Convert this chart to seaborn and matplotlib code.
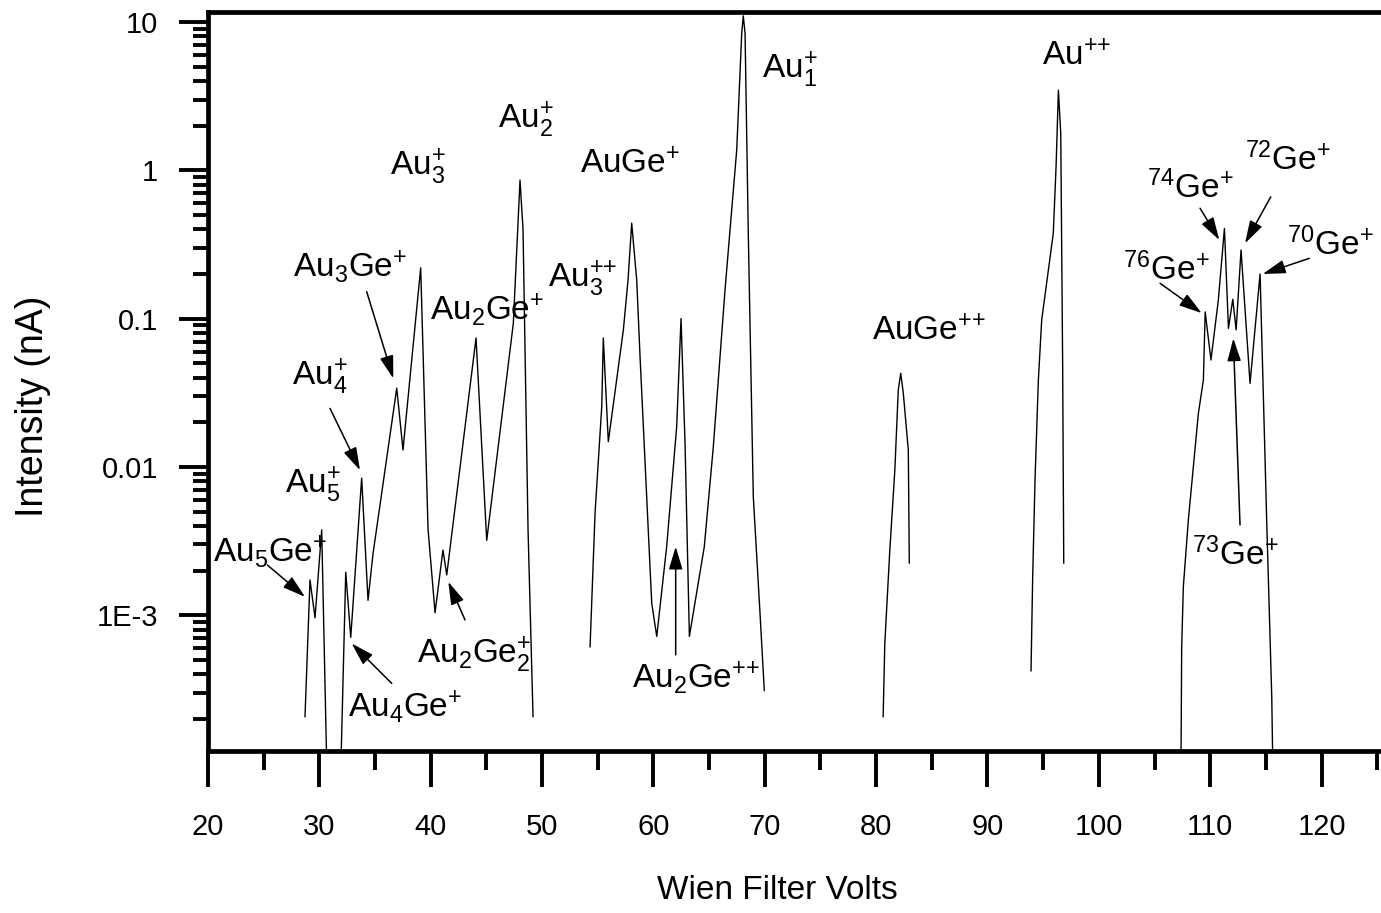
import numpy as np
import pandas as pd
import matplotlib
matplotlib.use("Agg")
import matplotlib.pyplot as plt
import seaborn as sns

# ---- scan segments: Wien filter voltage (V) and beam current (nA) ----
seg_a_volts = [28.71, 29.16, 29.61, 30.21, 30.66]
seg_a_na = [2.06e-4, 1.73e-3, 9.6e-4, 3.76e-3, 1.0e-4]

seg_b_volts = [31.94, 32.37, 32.82, 33.80, 34.37, 34.82, 36.95, 37.51, 39.10,
               39.76, 40.39, 41.10, 41.44, 44.07, 45.03, 47.42, 48.02, 48.29,
               48.74, 49.19]
seg_b_na = [1.0e-4, 1.95e-3, 7.1e-4, 8.4e-3, 1.26e-3, 2.6e-3, 0.034, 0.013, 0.22,
            3.8e-3, 1.04e-3, 2.75e-3, 1.87e-3, 0.074, 3.2e-3, 0.093, 0.86, 0.40,
            3.8e-3, 2.06e-4]

seg_c_volts = [54.31, 54.76, 55.36, 55.50, 55.95, 57.30, 57.72, 58.05, 58.50,
               58.80, 59.85, 60.30, 61.19, 62.09, 62.48, 62.84, 63.23, 64.57,
               65.38, 66.43, 67.48, 67.93, 68.07, 68.23, 68.52, 68.97, 69.57,
               69.96]
seg_c_na = [6.1e-4, 4.9e-3, 0.0255, 0.074, 0.0148, 0.0838, 0.182, 0.44, 0.182,
            0.0553, 1.2e-3, 7.2e-4, 2.9e-3, 0.0187, 0.10, 0.0144, 7.2e-4, 2.9e-3,
            0.0137, 0.156, 1.37, 8.4, 11.0, 8.4, 0.376, 6.3e-3, 1.04e-3, 3.1e-4]

seg_d_volts = [80.63, 80.78, 81.23, 81.68, 81.99, 82.21, 82.44, 82.89, 82.98]
seg_d_na = [2.06e-4, 6.45e-4, 2.75e-3, 9.5e-3, 0.033, 0.0428, 0.0315, 0.013, 2.24e-3]

seg_e_volts = [93.91, 94.06, 94.27, 94.57, 94.87, 95.91, 96.16, 96.37, 96.58,
               96.75, 96.85]
seg_e_na = [4.2e-4, 1.82e-3, 8.2e-3, 0.0386, 0.098, 0.376, 1.06, 3.47, 1.78,
            0.05, 2.24e-3]

seg_f_volts = [107.38, 107.44, 107.59, 108.04, 108.94, 109.39, 109.55, 110.07,
               110.73, 111.28, 111.64, 112.03, 112.33, 112.77, 113.58, 114.48,
               114.77, 115.08, 115.53, 115.62]
seg_f_na = [1.0e-4, 6.1e-4, 1.56e-3, 4.4e-3, 0.023, 0.0386, 0.111, 0.0526,
            0.133, 0.406, 0.086, 0.135, 0.084, 0.29, 0.0366, 0.20, 0.0313,
            4.2e-3, 2.8e-4, 1.0e-4]

# ---- axis ticks ----
x_major = [20, 30, 40, 50, 60, 70, 80, 90, 100, 110, 120]
y_major = [1e-3, 1e-2, 1e-1, 1, 10]
y_major_labels = ["1E-3", "0.01", "0.1", "1", "10"]

# ---- peak labels: (text, volts, nA) at text baseline-left ----
P = "{+}"
PP = "{+}{+}"
peak_labels = [
    (r"$\mathregular{Au_1^%s}$" % P, 69.75, 4.19),
    (r"$\mathregular{Au^{%s}}$" % PP, 94.9, 5.13),
    (r"$\mathregular{Au_2^%s}$" % P, 46.04, 1.93),
    (r"$\mathregular{Au_3^%s}$" % P, 36.34, 0.93),
    (r"$\mathregular{AuGe^%s}$" % P, 53.41, 0.96),
    (r"$\mathregular{Au_3Ge^%s}$" % P, 27.63, 0.19),
    (r"$\mathregular{Au_2Ge^%s}$" % P, 39.94, 0.098),
    (r"$\mathregular{Au_3^{%s}}$" % PP, 50.53, 0.163),
    (r"$\mathregular{Au_4^%s}$" % P, 27.54, 0.0357),
    (r"$\mathregular{Au_5^%s}$" % P, 26.92, 6.67e-3),
    (r"$\mathregular{Au_5Ge^%s}$" % P, 20.45, 2.29e-3),
    (r"$\mathregular{Au_4Ge^%s}$" % P, 32.57, 2.06e-4),
    (r"$\mathregular{Au_2Ge_2^%s}$" % P, 38.77, 4.77e-4),
    (r"$\mathregular{Au_2Ge^{%s}}$" % PP, 58.08, 3.23e-4),
    (r"$\mathregular{AuGe^{%s}}$" % PP, 79.63, 0.0718),
    (r"$\mathregular{^{74}Ge^%s}$" % P, 104.33, 0.65),
    (r"$\mathregular{^{72}Ge^%s}$" % P, 113.13, 1.0),
    (r"$\mathregular{^{70}Ge^%s}$" % P, 116.9, 0.268),
    (r"$\mathregular{^{76}Ge^%s}$" % P, 102.17, 0.182),
    (r"$\mathregular{^{73}Ge^%s}$" % P, 108.37, 2.18e-3),
]

# ---- pointer arrows: (tail volts, tail nA, head volts, head nA) ----
pointers = [
    (34.25, 0.152, 36.64, 0.0395),     # Au3Ge+
    (30.96, 0.0248, 33.65, 9.5e-3),    # Au4+
    (25.33, 2.18e-3, 28.71, 1.33e-3),  # Au5Ge+
    (36.50, 3.47e-4, 32.90, 6.45e-4),  # Au4Ge+
    (43.08, 9.3e-4, 41.58, 1.68e-3),   # Au2Ge2+
    (62.00, 5.4e-4, 62.00, 2.9e-3),    # Au2Ge++
    (109.09, 0.555, 110.82, 0.339),    # 74Ge+
    (115.44, 0.663, 113.13, 0.322),    # 72Ge+
    (118.90, 0.255, 114.72, 0.20),     # 70Ge+
    (105.50, 0.173, 109.24, 0.109),    # 76Ge+
    (112.68, 4.06e-3, 112.08, 0.0736), # 73Ge+
]

segments = {
    "a": (seg_a_volts, seg_a_na),
    "b": (seg_b_volts, seg_b_na),
    "c": (seg_c_volts, seg_c_na),
    "d": (seg_d_volts, seg_d_na),
    "e": (seg_e_volts, seg_e_na),
    "f": (seg_f_volts, seg_f_na),
}
df = pd.concat(
    [pd.DataFrame({"volts": v, "current": c, "scan": k}) for k, (v, c) in segments.items()],
    ignore_index=True,
)

sns.set_style("ticks")
plt.rcParams["font.family"] = ["Liberation Sans", "DejaVu Sans"]
plt.rcParams["mathtext.fontset"] = "custom"
plt.rcParams["mathtext.rm"] = "Liberation Sans"
plt.rcParams["mathtext.it"] = "Liberation Sans:italic"
plt.rcParams["mathtext.bf"] = "Liberation Sans:bold"
for key in ("text.color", "axes.labelcolor", "xtick.color", "ytick.color",
            "xtick.labelcolor", "ytick.labelcolor", "axes.edgecolor"):
    plt.rcParams[key] = "black"

W, H = 1381, 913
fig = plt.figure(figsize=(W / 100, H / 100), dpi=100)
fig.patch.set_facecolor("white")
ax = fig.add_axes([208 / W, 1 - 750.5 / H, (W - 208) / W, (750.5 - 11.7) / H])
ax.set_facecolor("white")

sns.lineplot(data=df, x="volts", y="current", units="scan", estimator=None,
             sort=False, color="black", lw=1.0, ax=ax, legend=False)

ax.set_yscale("log")
ax.set_xlim(20, 125.34)
ax.set_ylim(1.224e-4, 11.74)

ax.set_xticks(x_major)
ax.set_xticklabels([str(t) for t in x_major])
ax.set_xticks(np.arange(25, 126, 10), minor=True)
ax.set_yticks(y_major)
ax.set_yticklabels(y_major_labels)
ax.yaxis.set_minor_locator(matplotlib.ticker.LogLocator(base=10, subs=np.arange(2, 10)))
ax.yaxis.set_minor_formatter(matplotlib.ticker.NullFormatter())

for side in ("left", "bottom", "top"):
    ax.spines[side].set_linewidth(3.4)
    ax.spines[side].set_color("black")
ax.spines["right"].set_visible(False)

ax.tick_params(axis="x", which="major", direction="out", length=26, width=2.8,
               pad=19, labelsize=21, color="black", labelcolor="black", top=False)
ax.tick_params(axis="x", which="minor", direction="out", length=14, width=2.8,
               color="black", top=False)
ax.tick_params(axis="y", which="major", direction="out", length=21, width=2.8,
               pad=15, labelsize=21, color="black", labelcolor="black", right=False)
ax.tick_params(axis="y", which="minor", direction="out", length=11, width=2.8,
               color="black", right=False)

ax.set_xlabel("Wien Filter Volts", fontsize=24, color="black")
ax.set_ylabel("Intensity (nA)", fontsize=27, color="black")
ax.xaxis.set_label_coords(0.485, -0.168)
ax.yaxis.set_label_coords(-0.134, 0.466)

for text, xv, yv in peak_labels:
    ax.text(xv, yv, text, fontsize=24, ha="left", va="baseline", color="black")

for tx, ty, hx, hy in pointers:
    ax.annotate("", xy=(hx, hy), xytext=(tx, ty),
                arrowprops=dict(arrowstyle="-|>,head_length=1.0,head_width=0.3",
                                color="black", lw=1.1, shrinkA=0, shrinkB=0,
                                mutation_scale=14))

fig.savefig("out.png", dpi=100, facecolor="white")
